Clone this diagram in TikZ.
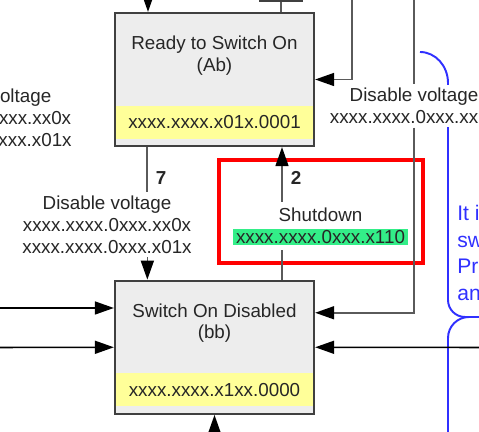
\documentclass[tikz,border=0pt]{standalone}
\usepackage{fontspec}
\setmainfont{Liberation Sans}
\usetikzlibrary{arrows.meta, positioning}

\definecolor{boxgray}{HTML}{EDEDED}
\definecolor{bordergray}{HTML}{404040}
\definecolor{linegray}{HTML}{5A5A5A}
\definecolor{cwyellow}{HTML}{FFFF99}
\definecolor{cwgreen}{HTML}{33EE88}
\definecolor{notered}{HTML}{FF0000}
\definecolor{noteblue}{HTML}{3030FF}
\definecolor{txtgray}{HTML}{262626}

\begin{document}
\begin{tikzpicture}[
    font=\fontsize{10.7}{12.5}\selectfont,
    node distance=2.65cm,
    statebox/.style={draw=bordergray, line width=1.3pt, fill=boxgray, minimum width=3.98cm, minimum height=2.66cm, inner sep=0pt},
    ctrlword/.style={fill=cwyellow, minimum width=3.93cm, minimum height=0.66cm, inner sep=0pt, text=txtgray},
    cwbox/.style={fill=cwgreen, inner xsep=1.5pt, inner ysep=0.5pt, minimum height=0.30cm, text=txtgray},
    boxtitle/.style={align=center, text=txtgray},
    lbl/.style={align=center, text=txtgray, fill=white, inner sep=2pt},
    num/.style={font=\fontsize{10.7}{12.5}\selectfont\bfseries, text=txtgray},
    trans/.style={draw=linegray, line width=1.1pt},
    arrow/.style={-{Triangle[length=0.38cm, width=0.26cm, color=black]}, line width=0.9pt},
    hilite/.style={draw=notered, line width=2.3pt},
    noteline/.style={draw=noteblue, line width=1.1pt},
    notetext/.style={align=left, text=noteblue, font=\fontsize{12}{15.3}\selectfont, inner sep=0pt}
]
\useasboundingbox (0,0) rectangle (9.58,8.64);
\clip (0,0) rectangle (9.58,8.64);

\node[statebox] (rtso) at (4.29,7.05) {};
\node[ctrlword, above=0.16cm of rtso.south] (rtsocw) {xxxx.xxxx.x01x.0001};
\node[boxtitle] (rtsotxt) at ([yshift=-0.87cm]rtso.north) {Ready to Switch On\\(Ab)};

\node[statebox, below=of rtso] (sod) {};
\node[ctrlword, above=0.17cm of sod.south] (sodcw) {xxxx.xxxx.x1xx.0000};
\node[boxtitle] (sodtxt) at ([yshift=-0.87cm]sod.north) {Switch On Disabled\\(bb)};

\node[draw=bordergray, line width=1.3pt, fill=white, minimum width=0.84cm, minimum height=0.6cm, anchor=south] (prevbox) at (5.62,8.60) {};

\coordinate (topin) at (2.96,8.8);
\coordinate (loopin) at (7.04,8.8);
\coordinate (grayin) at (8.28,8.8);
\coordinate (rightin) at (9.7,1.69);
\coordinate (leftin1) at (-0.1,2.48);
\coordinate (leftin2) at (-0.1,1.69);
\coordinate (bottomin) at (4.29,-0.1);
\coordinate (t7) at ([xshift=0.67cm]rtso.south west);
\coordinate (t2) at ([xshift=1.35cm]sod.north);

\draw[noteline] (8.40,7.60) arc[start angle=90, end angle=0, x radius=0.56cm, y radius=0.62cm] [rounded corners=0.34cm] -- (8.96,2.30) -- (9.7,2.30);
\draw[noteline, rounded corners=0.42cm] (9.7,2.30) -- (8.96,2.30) -- (8.96,-0.1);
\node[notetext, anchor=west] (note) at (9.14,3.58) {It is\\switch\\Profile\\and};

\node[lbl] (dvright) at (8.28,6.52) {Disable voltage\\xxxx.xxxx.0xxx.xx0x};
\node[lbl] (dvmid) at (2.14,4.15) {Disable voltage\\xxxx.xxxx.0xxx.xx0x\\xxxx.xxxx.0xxx.x01x};
\node[lbl, anchor=east] (dvleft) at (1.51,6.28) {Disable voltage\\xxxx.xxxx.0xxx.xx0x\\xxxx.xxxx.0xxx.x01x};

\draw[hilite] (4.38,3.38) rectangle (8.46,5.44);
\node[boxtitle] (shutdn) at (6.41,4.34) {Shutdown};
\node[cwbox] (shutcw) at (6.41,3.90) {xxxx.xxxx.0xxx.x110};

\draw[trans] (prevbox.south) -- (prevbox.south |- rtso.north);
\draw[trans, arrow] (topin) -- (topin |- rtso.north);
\draw[trans, arrow] (loopin) |- (rtso.east);
\draw[trans] (grayin) -- (dvright.north);
\draw[trans, arrow] (dvright.south) |- ([yshift=0.69cm]sod.east);

\draw[trans] (t7) -- (t7 |- dvmid.north);
\draw[trans, arrow] (t7 |- dvmid.south) -- (t7 |- sod.north);
\node[num] (n7) at (3.22,5.08) {7};

\draw[trans] (t2) -- ([yshift=-0.1cm]t2 |- shutcw.south);
\draw[trans, arrow] (t2 |- shutdn.north) -- (t2 |- rtso.south);
\node[num] (n2) at (5.92,5.08) {2};

\draw[arrow] (leftin1) -- (leftin1 -| sod.west);
\draw[arrow] (leftin2) -- (sod.west);
\draw[arrow] (rightin) -- (sod.east);
\draw[arrow] (bottomin) -- (sod.south);
\end{tikzpicture}
\end{document}
